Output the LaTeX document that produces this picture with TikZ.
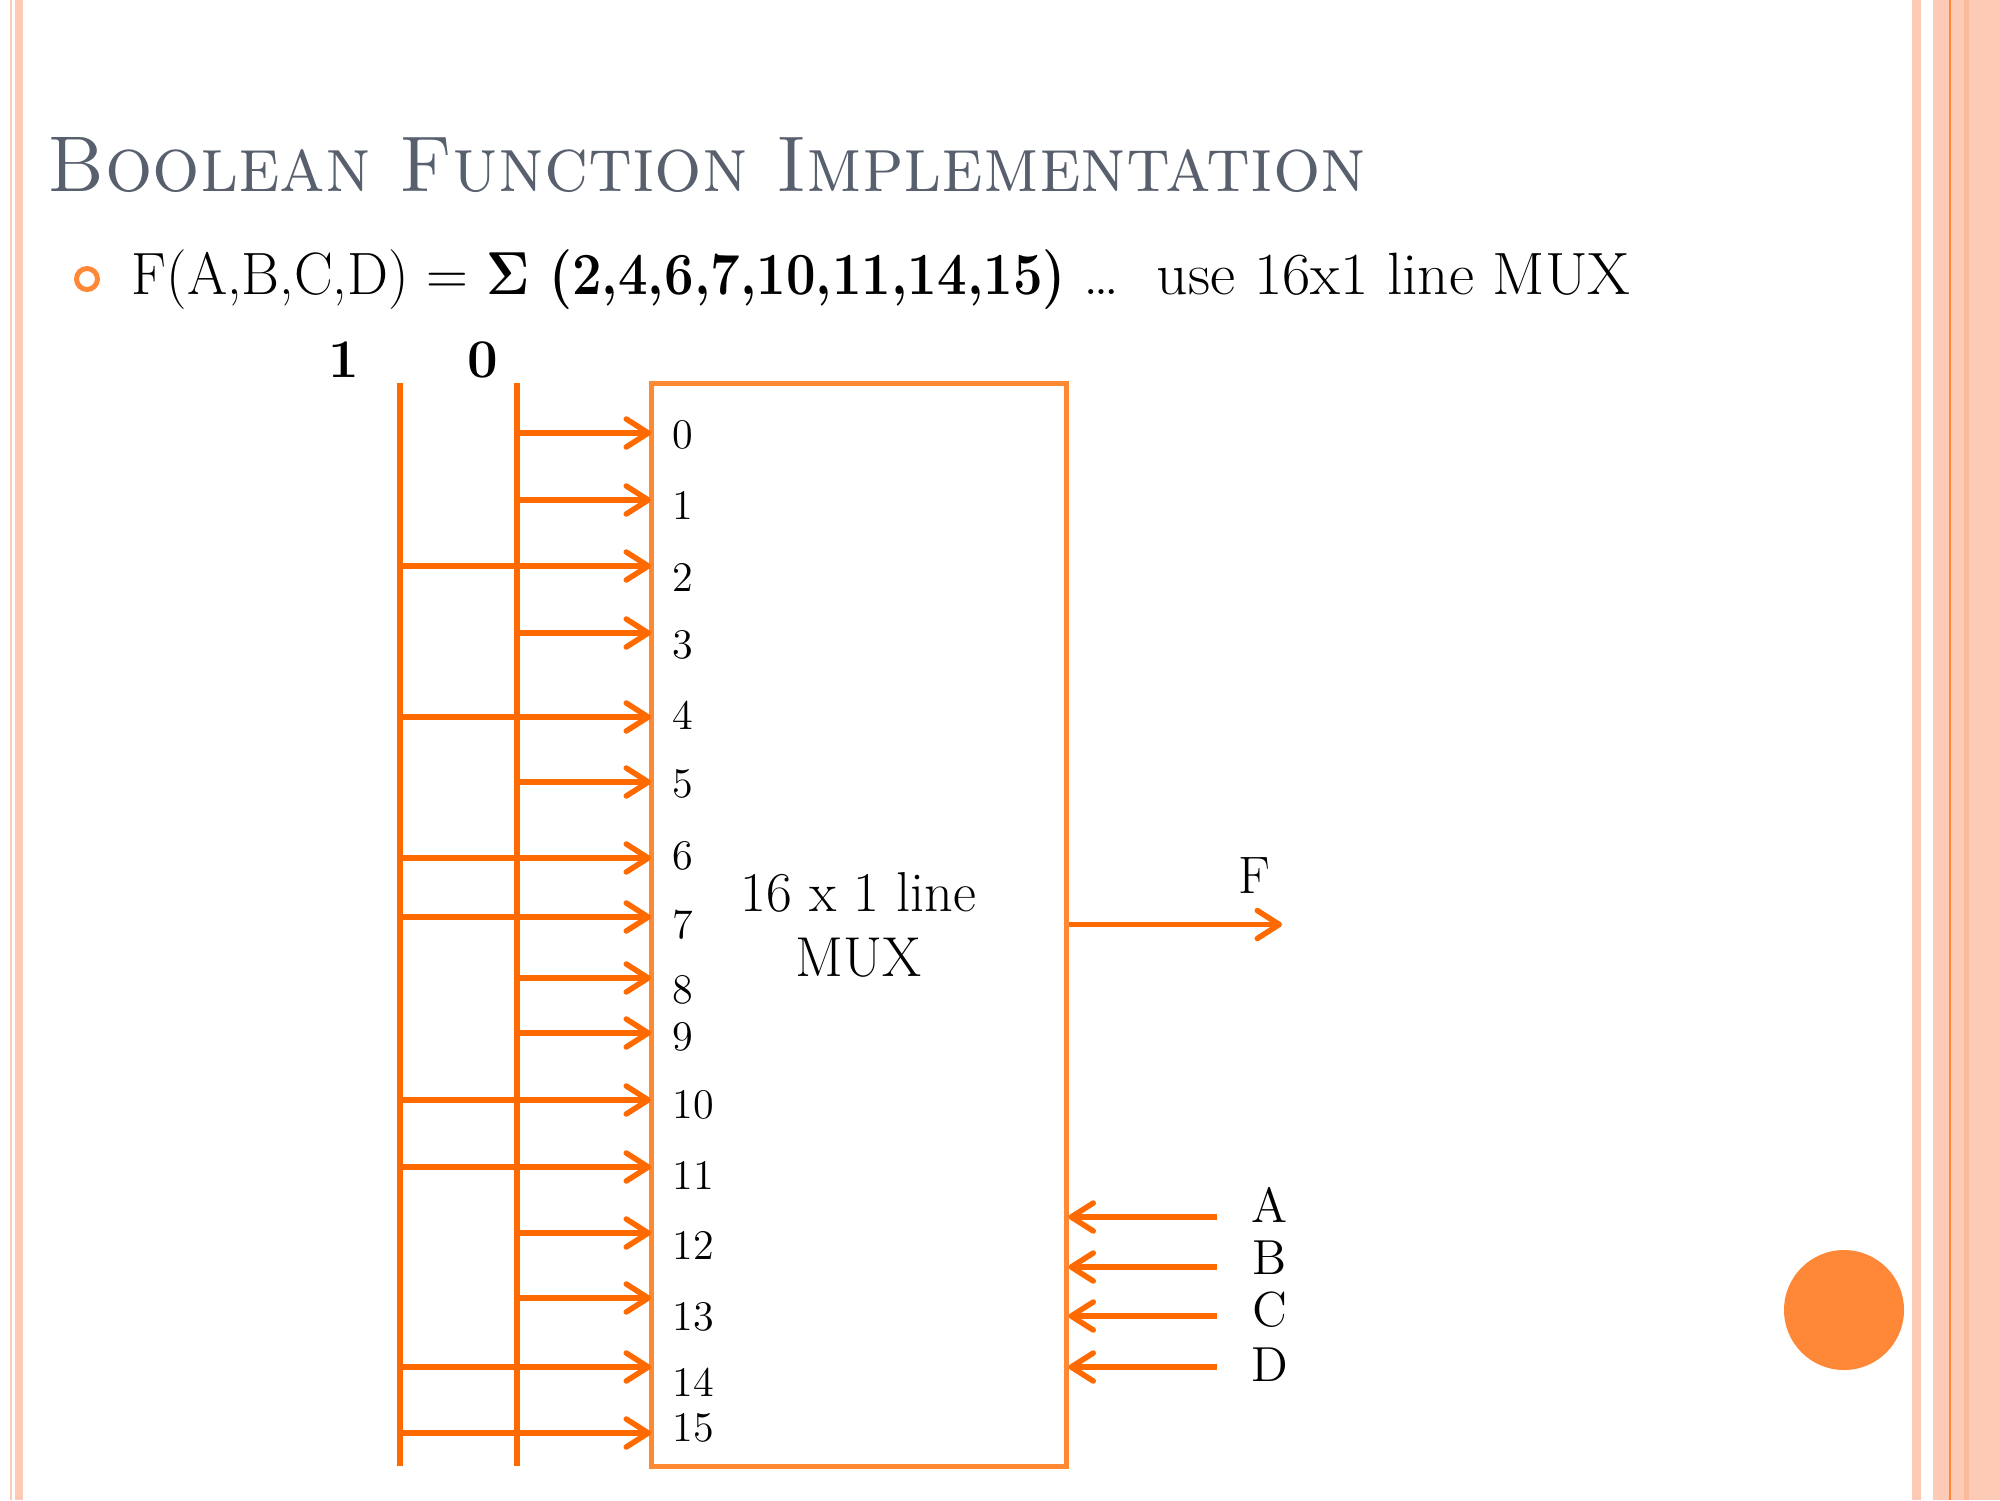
\documentclass[tikz,border=0pt]{standalone}
\usepackage{amsmath,amssymb}
\usetikzlibrary{arrows.meta,positioning,calc}
\definecolor{wireorange}{RGB}{255,106,0}
\definecolor{boxorange}{RGB}{255,136,51}
\definecolor{dotorange}{RGB}{255,136,56}
\definecolor{bandpink}{RGB}{253,202,181}
\definecolor{banddark}{RGB}{252,186,156}
\definecolor{titlegray}{RGB}{88,96,110}
\newcommand{\fsz}[2]{\fontsize{#1}{#2}\selectfont}

\begin{document}
\begin{tikzpicture}[
    wire/.style={wireorange,line width=0.55mm},
    feed/.style={wire,-{Straight Barb[length=2.2mm,width=2.8mm,round]}},
    pin/.style={anchor=west,inner sep=0pt,font=\fsz{12}{14}},
    sel/.style={inner sep=0pt,font=\fsz{14}{16}},
    muxbox/.style={draw=boxorange,line width=0.5mm,minimum width=4.15cm,minimum height=10.83cm,align=center,font=\fsz{16}{18.5}}]
      % slide frame
      \useasboundingbox (0,0) rectangle (20,-15);
      \fill[white] (0,0) rectangle (20,-15);
      \fill[bandpink] (0.10,0) rectangle (0.12,-15);
      \fill[bandpink] (0.15,0) rectangle (0.227,-15);
      \fill[bandpink] (19.123,0) rectangle (19.21,-15);
      \fill[bandpink] (19.333,0) rectangle (20,-15);
      \fill[banddark] (19.64,0) rectangle (19.69,-15);
      \fill[dotorange] (19.49,0) rectangle (19.51,-15);
      \fill[dotorange] (18.44,-13.10) circle (0.60);
      % heading and bullet line
      \node[anchor=base west,inner sep=0pt,titlegray,font=\fsz{22.5}{27}] (title) at (0.47,-1.91) {\scalebox{0.943}[1]{\textsc{Boolean Function Implementation}}};
      \draw[dotorange,line width=0.5mm] (0.87,-2.79) circle (0.105);
      \node[anchor=base west,inner sep=0pt,font=\fsz{17}{20}] (eq) at (1.31,-2.94) {\scalebox{0.97}[1]{F(A,B,C,D) =}
        \scalebox{0.88}[1]{\textbf{$\mathbf{\Sigma}$ (2,4,6,7,10,11,14,15)}} \scalebox{1.03}[1]{\dots\ \ use 16x1 line MUX}};
      % constant lines
      \coordinate (topone) at (4.00,-3.83);
      \coordinate (botone) at (4.00,-14.66);
      \coordinate (topzero) at (5.17,-3.83);
      \coordinate (botzero) at (5.17,-14.66);
      \node[inner sep=0pt,font=\fsz{15.5}{18}\bfseries] (lone) at (3.44,-3.595) {1};
      \node[inner sep=0pt,font=\fsz{15.5}{18}\bfseries] (lzero) at (4.83,-3.595) {0};
      \draw[wire] (topone) -- (botone);
      \draw[wire] (topzero) -- (botzero);
      % the multiplexer
      \node[muxbox] (mux) at (8.585,-9.245) {16 x 1 line\\MUX};
      \foreach \n/\y/\ly/\src in {0/4.33/4.35/zero, 1/5.00/5.05/zero, 2/5.66/5.77/one, 3/6.33/6.45/zero,
          4/7.17/7.15/one, 5/7.82/7.84/zero, 6/8.58/8.56/one, 7/9.17/9.25/one,
          8/9.78/9.90/zero, 9/10.33/10.37/zero, 10/11.00/11.05/one, 11/11.67/11.75/one,
          12/12.33/12.45/zero, 13/12.98/13.17/zero, 14/13.67/13.82/one, 15/14.33/14.28/one}{
        \coordinate (in\n) at (6.51,-\y);
        \draw[feed] (top\src |- in\n) -- (in\n);
        \node[pin] (p\n) at (6.72,-\ly) {\n};
      }
      % output and select inputs
      \coordinate (fout) at (12.82,-9.245);
      \draw[feed] (mux.east) -- (fout);
      \node[inner sep=0pt,font=\fsz{15}{18}] (lf) at (12.54,-8.755) {F};
      \foreach \s/\y/\ly in {A/12.17/12.05, B/12.67/12.58, C/13.16/13.10, D/13.67/13.65}{
        \coordinate (s\s) at (12.17,-\y);
        \draw[feed] (s\s) -- (mux.east |- s\s);
        \node[sel] (l\s) at (12.70,-\ly) {\s};
      }
    \end{tikzpicture}
\end{document}
